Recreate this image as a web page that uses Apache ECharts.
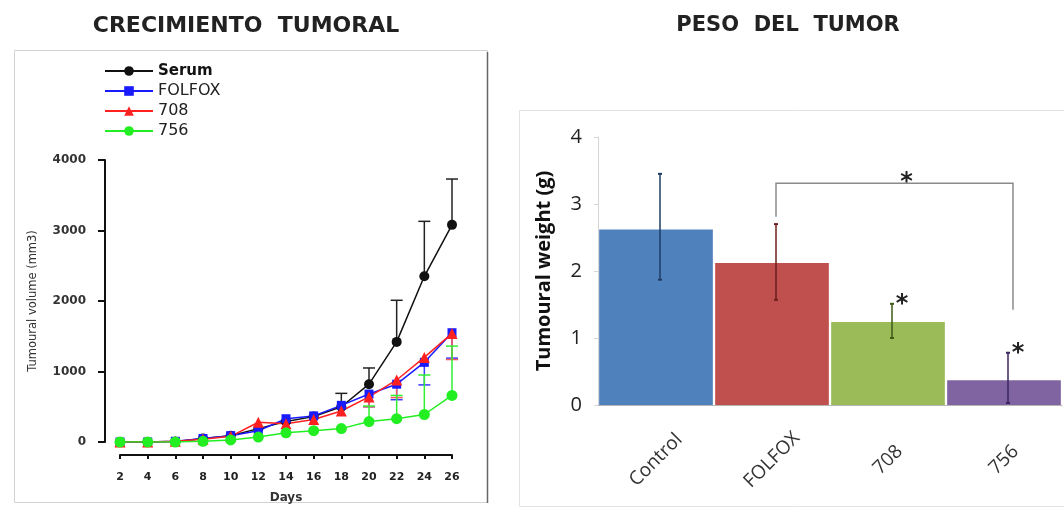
<!DOCTYPE html>
<html>
<head>
<meta charset="utf-8">
<script src="https://cdn.jsdelivr.net/npm/echarts@6/dist/echarts.min.js"></script>
<style>
html, body { margin: 0; padding: 0; background: #fff; }
#chart { width: 1064px; height: 510px; }
</style>
</head>
<body>
<div id="chart"></div>
<script>
// tumour growth (left panel)
var days = [2, 4, 6, 8, 10, 12, 14, 16, 18, 20, 22, 24, 26];
var serum = [0, 0, 5, 50, 90, 190, 290, 360, 500, 820, 1420, 2350, 3080];
var serumErrUp = [0, 0, 0, 0, 0, 0, 0, 0, 190, 230, 590, 780, 650];
var folfox = [0, 0, 10, 50, 90, 160, 330, 370, 520, 680, 820, 1130, 1550];
var folfoxErrDown = [0, 0, 0, 0, 0, 0, 0, 0, 0, 180, 220, 320, 360];
var g708 = [0, 0, 10, 40, 80, 280, 260, 320, 440, 640, 880, 1200, 1540];
var g708ErrDown = [0, 0, 0, 0, 0, 0, 0, 0, 0, 140, 250, 0, 370];
var g756 = [0, 0, 0, 10, 30, 70, 130, 160, 190, 290, 330, 390, 660];
var g756ErrUp = [0, 0, 0, 0, 0, 0, 0, 0, 0, 220, 330, 560, 700];

// tumour weight (right panel)
var groups = ['Control', 'FOLFOX', '708', '756'];
var weight = [2.62, 2.12, 1.24, 0.37];
var weightLow = [1.87, 1.57, 1.0, 0.03];
var weightHigh = [3.45, 2.70, 1.51, 0.78];
var barColors = ['#4f81bd', '#c0504d', '#9bbb59', '#8064a2'];
var errColors = ['#1f3d66', '#6b1f1d', '#3d5a16', '#3a2660'];
var starred = [false, false, true, true];
// bracket FOLFOX -> 756
var bracketFrom = 1, bracketTo = 3;
var bracketLeftY = 2.81, bracketTopY = 3.31, bracketRightY = 1.42;

var chart = echarts.init(document.getElementById('chart'));

function errData(vals, err, dir) {
  var out = [];
  for (var i = 0; i < vals.length; i++) {
    if (!err[i]) continue;
    if (dir === 'up') out.push([days[i], vals[i], vals[i] + err[i]]);
    else out.push([days[i], vals[i] - err[i], vals[i]]);
  }
  return out;
}

function errSeries(name, color, data, dir) {
  return {
    name: name + ' err',
    type: 'custom',
    xAxisIndex: 0,
    yAxisIndex: 0,
    z: 1,
    silent: true,
    data: data,
    renderItem: function (params, api) {
      var x = api.value(0);
      var p1 = api.coord([x, api.value(1)]);
      var p2 = api.coord([x, api.value(2)]);
      var capY = dir === 'up' ? p2[1] : p1[1];
      return {
        type: 'group',
        children: [
          { type: 'line', shape: { x1: p1[0], y1: p1[1], x2: p2[0], y2: p2[1] }, style: { stroke: color, lineWidth: 1.5 } },
          { type: 'line', shape: { x1: p1[0] - 6, y1: capY, x2: p1[0] + 6, y2: capY }, style: { stroke: color, lineWidth: 1.5 } }
        ]
      };
    }
  };
}

function lineSeries(name, vals, color, symbol, size) {
  return {
    name: name,
    type: 'line',
    xAxisIndex: 0,
    yAxisIndex: 0,
    z: 3,
    data: days.map(function (d, i) { return [d, vals[i]]; }),
    symbol: symbol,
    symbolSize: size,
    color: color,
    lineStyle: { color: color, width: 1.5 },
    itemStyle: { color: color }
  };
}

var option = {
  animation: false,
  backgroundColor: '#fff',
  title: [
    { text: 'CRECIMIENTO  TUMORAL', left: 241, textAlign: 'center', top: 10,
      textStyle: { fontFamily: 'DejaVu Sans', fontWeight: 'bold', fontSize: 22, color: '#222' } },
    { text: 'PESO  DEL  TUMOR', left: 783, textAlign: 'center', top: 10,
      textStyle: { fontFamily: 'DejaVu Sans', fontWeight: 'bold', fontSize: 21, color: '#222' } }
  ],
  graphic: [
    { type: 'rect', shape: { x: 14.5, y: 50.5, width: 473, height: 452 }, style: { fill: 'none', stroke: '#d2d2d2', lineWidth: 1 } },
    { type: 'line', shape: { x1: 487.5, y1: 52, x2: 487.5, y2: 503 }, style: { stroke: '#666', lineWidth: 1.5 } },
    { type: 'rect', shape: { x: 519.5, y: 110.5, width: 560, height: 396 }, style: { fill: 'none', stroke: '#e3e3e3', lineWidth: 1 } }
  ],
  legend: {
    data: ['Serum', 'FOLFOX', '708', '756'],
    orient: 'vertical',
    left: 99,
    top: 58,
    itemWidth: 48,
    itemHeight: 12,
    itemGap: 4,
    formatter: function (name) { return name === 'Serum' ? '{b|' + name + '}' : name; },
    textStyle: {
      fontFamily: 'DejaVu Sans', fontSize: 16, lineHeight: 16, color: '#222',
      rich: { b: { fontFamily: 'DejaVu Sans', fontSize: 15, lineHeight: 16, fontWeight: 'bold', color: '#111' } }
    }
  },
  grid: [
    { left: 120, top: 160, width: 332, height: 282 },
    { left: 598, top: 137, width: 464, height: 268 }
  ],
  xAxis: [
    {
      gridIndex: 0, type: 'value', min: 2, max: 26, interval: 2, offset: 13,
      axisLine: { onZero: false, lineStyle: { color: '#111', width: 2 } },
      axisTick: { length: 4, lineStyle: { color: '#111', width: 2 } },
      splitLine: { show: false },
      axisLabel: { fontFamily: 'DejaVu Sans', fontWeight: 'bold', fontSize: 11, color: '#222', margin: 17 },
      name: 'Days', nameLocation: 'middle', nameGap: 37,
      nameTextStyle: { fontFamily: 'DejaVu Sans', fontWeight: 'bold', fontSize: 12, color: '#333' }
    },
    {
      gridIndex: 1, type: 'category', data: groups,
      axisLine: { lineStyle: { color: '#b5b5b5', width: 1 } },
      axisTick: { show: false },
      axisLabel: { rotate: 45, align: 'center', verticalAlign: 'middle', fontFamily: 'Open Sans', fontSize: 19, color: '#333', margin: 55 }
    }
  ],
  yAxis: [
    {
      gridIndex: 0, type: 'value', min: 0, max: 4000, interval: 1000, offset: 15,
      axisLine: { show: true, onZero: false, lineStyle: { color: '#111', width: 2 } },
      axisTick: { show: true, length: 7, lineStyle: { color: '#111', width: 2 } },
      splitLine: { show: false },
      axisLabel: { fontFamily: 'DejaVu Sans', fontWeight: 'bold', fontSize: 12, color: '#333', margin: 19,
        formatter: function (v) { return String(v); } },
      name: 'Tumoural volume (mm3)', nameLocation: 'middle', nameGap: 66,
      nameTextStyle: { fontFamily: 'DejaVu Sans', fontSize: 11.5, color: '#333' }
    },
    {
      gridIndex: 1, type: 'value', min: 0, max: 4, interval: 1,
      axisLine: { show: true, lineStyle: { color: '#d6d6d6', width: 1 } },
      axisTick: { show: true, length: 4, lineStyle: { color: '#d6d6d6' } },
      splitLine: { show: false },
      axisLabel: { fontFamily: 'Open Sans', fontSize: 20, color: '#222', margin: 16 },
      name: 'Tumoural weight (g)', nameLocation: 'middle', nameGap: 44,
      nameTextStyle: { fontFamily: 'Open Sans', fontWeight: 'bold', fontSize: 20, color: '#111' }
    }
  ],
  series: [
    errSeries('Serum', '#222', errData(serum, serumErrUp, 'up'), 'up'),
    errSeries('FOLFOX', '#3a3aff', errData(folfox, folfoxErrDown, 'down'), 'down'),
    errSeries('708', '#ff5a5a', errData(g708, g708ErrDown, 'down'), 'down'),
    errSeries('756', '#33ee33', errData(g756, g756ErrUp, 'up'), 'up'),
    lineSeries('Serum', serum, '#111', 'circle', 10),
    lineSeries('FOLFOX', folfox, '#1a1aff', 'rect', 9),
    lineSeries('708', g708, '#ff2020', 'triangle', 11),
    lineSeries('756', g756, '#22ee22', 'circle', 11),
    {
      name: 'weight',
      type: 'bar',
      xAxisIndex: 1,
      yAxisIndex: 1,
      barCategoryGap: '2%',
      data: weight.map(function (v, i) { return { value: v, itemStyle: { color: barColors[i] } }; })
    },
    {
      name: 'weight err',
      type: 'custom',
      xAxisIndex: 1,
      yAxisIndex: 1,
      z: 5,
      silent: true,
      data: groups.map(function (g, i) { return [i, weightLow[i], weightHigh[i]]; }),
      renderItem: function (params, api) {
        var i = api.value(0);
        var p1 = api.coord([i, api.value(1)]);
        var p2 = api.coord([i, api.value(2)]);
        var x = p1[0] + 4;
        var c = errColors[params.dataIndex];
        var kids = [
          { type: 'line', shape: { x1: x, y1: p1[1], x2: x, y2: p2[1] }, style: { stroke: c, lineWidth: 1.5 } },
          { type: 'line', shape: { x1: x - 2, y1: p1[1], x2: x + 2, y2: p1[1] }, style: { stroke: c, lineWidth: 2 } },
          { type: 'line', shape: { x1: x - 2, y1: p2[1], x2: x + 2, y2: p2[1] }, style: { stroke: c, lineWidth: 2 } }
        ];
        if (starred[params.dataIndex]) {
          kids.push({ type: 'text', x: x + 10, y: p2[1] + 1, style: {
            text: '*', align: 'center', verticalAlign: 'middle', fontSize: 24, fontWeight: 'bold', fontFamily: 'DejaVu Sans', fill: '#222' } });
        }
        return { type: 'group', children: kids };
      }
    },
    {
      name: 'bracket',
      type: 'custom',
      xAxisIndex: 1,
      yAxisIndex: 1,
      z: 5,
      silent: true,
      data: [[bracketFrom, bracketTo, bracketLeftY, bracketTopY, bracketRightY]],
      renderItem: function (params, api) {
        var a = api.coord([api.value(0), api.value(2)]);
        var t1 = api.coord([api.value(0), api.value(3)]);
        var t2 = api.coord([api.value(1), api.value(3)]);
        var b = api.coord([api.value(1), api.value(4)]);
        var xl = a[0] + 4;
        var xr = t2[0] + 9;
        return {
          type: 'group',
          children: [
            { type: 'polyline', shape: { points: [[xl, a[1]], [xl, t1[1]], [xr, t2[1]], [xr, b[1]]] },
              style: { stroke: '#8a8a8a', lineWidth: 1.5, fill: 'none' } },
            { type: 'text', x: (xl + xr) / 2 + 12, y: t1[1], style: {
              text: '*', align: 'center', verticalAlign: 'middle', fontSize: 24, fontWeight: 'bold', fontFamily: 'DejaVu Sans', fill: '#222' } }
          ]
        };
      }
    }
  ]
};

chart.setOption(option);
</script>
</body>
</html>
